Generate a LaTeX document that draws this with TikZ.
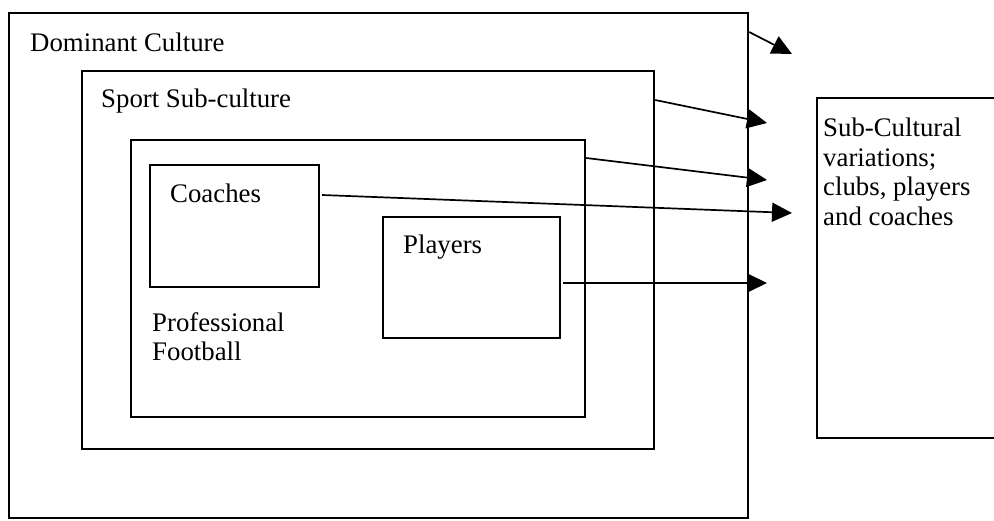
\documentclass[tikz,border=0pt]{standalone}
\usepackage{fontspec}
\setmainfont{Liberation Serif}
\usetikzlibrary{arrows.meta}
\begin{document}
\begin{tikzpicture}[x=1pt,y=-1pt,
  box/.style={draw,line width=2.2pt,rectangle,inner sep=0pt,anchor=north west},
  lbl/.style={inner sep=0pt,anchor=base west,font=\fontsize{26.8}{30}\selectfont},
  mlbl/.style={inner sep=0pt,anchor=north west,align=left,font=\fontsize{26.8}{29.5}\selectfont},
  arr/.style={line width=1.7pt,-{Triangle[length=20pt,width=19pt]}}]
\useasboundingbox (0,0) rectangle (994,520);
\fill[white] (0,0) rectangle (994,520);
\clip (0,0) rectangle (994,520);
% boxes
\node[box,minimum width=739pt,minimum height=505pt] (dom) at (8,12) {};
\node[box,minimum width=572pt,minimum height=378pt] (sport) at (81,70) {};
\node[box,minimum width=454pt,minimum height=277pt] (pf) at (130,139) {};
\node[box,minimum width=169pt,minimum height=122pt] (coach) at (149,164) {};
\node[box,minimum width=177pt,minimum height=121pt] (play) at (382,216) {};
\node[box,minimum width=200pt,minimum height=340pt] (sub) at (816,97) {};
% labels
\node[lbl] (tdom) at (30,51) {Dominant Culture};
\node[lbl] (tsport) at (101,107) {Sport Sub-culture};
\node[lbl] (tcoach) at (170,202) {Coaches};
\node[lbl] (tplay) at (403,253) {Players};
\node[mlbl] (tpf) at (152,312) {Professional\\Football};
\node[mlbl] (tsub) at (823,118) {Sub-Cultural\\variations;\\clubs, players\\and coaches};
% arrow tips
\coordinate (t1) at (792,54);
\coordinate (t2) at (767,123);
\coordinate (t3) at (767,180);
\coordinate (t4) at (792,213);
\coordinate (t5) at (767,283);
% connectors
\draw[arr] ([yshift=-20pt]dom.north east) -- (t1);
\draw[arr] ([yshift=-30pt]sport.north east) -- (t2);
\draw[arr] ([yshift=-19pt]pf.north east) -- (t3);
\draw[arr] ([xshift=2pt,yshift=-31pt]coach.north east) -- (t4);
\draw[arr] ([xshift=2pt,yshift=-67pt]play.north east) -- (t5);
\end{tikzpicture}
\end{document}
